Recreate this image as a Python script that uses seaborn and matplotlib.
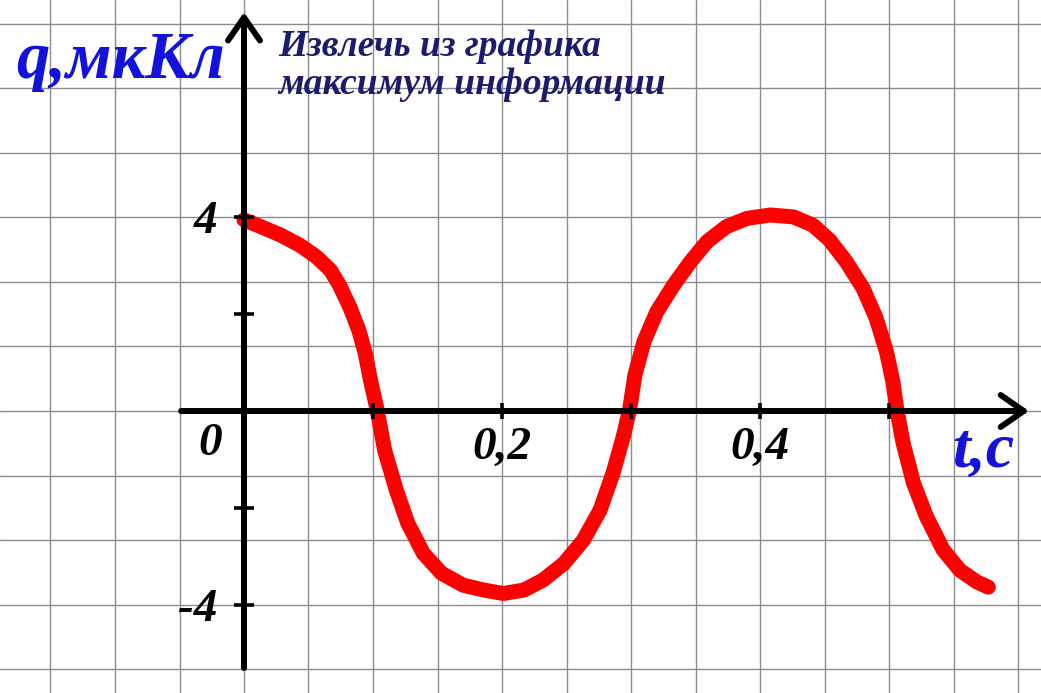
import matplotlib
matplotlib.use("Agg")
import matplotlib.pyplot as plt
import seaborn as sns
import pandas as pd
from matplotlib.ticker import MultipleLocator, NullLocator

# ---- data ----
time_s = [0.000, 0.012, 0.028, 0.043, 0.056, 0.067, 0.074, 0.082, 0.089, 0.094, 0.098, 0.103,
          0.109, 0.118, 0.127, 0.139, 0.153, 0.170, 0.186, 0.201, 0.217, 0.232, 0.248, 0.263,
          0.276, 0.286, 0.294, 0.299,
          0.303, 0.310, 0.320, 0.333, 0.346, 0.359, 0.374, 0.390, 0.408, 0.426, 0.441, 0.454,
          0.467, 0.480, 0.490, 0.498, 0.503, 0.506,
          0.511, 0.519, 0.529, 0.542, 0.555, 0.568, 0.577]
charge_uC = [3.95, 3.82, 3.64, 3.43, 3.19, 2.91, 2.60, 2.15, 1.67, 1.19, 0.64, 0.05,
             -0.81, -1.63, -2.32, -2.94, -3.35, -3.60, -3.70, -3.77, -3.70, -3.49, -3.15, -2.67,
             -2.05, -1.29, -0.53, 0.04,
             0.74, 1.43, 2.05, 2.60, 3.08, 3.50, 3.81, 3.98, 4.05, 4.01, 3.84, 3.53,
             3.08, 2.53, 1.92, 1.23, 0.61, 0.04,
             -0.67, -1.49, -2.18, -2.87, -3.29, -3.53, -3.64]

x_ticks = [0.1, 0.2, 0.3, 0.4, 0.5]
x_tick_labels = ["", "0,2", "", "0,4", ""]
y_ticks = [-4, -2, 2, 4]
y_tick_labels = ["-4", "", "", "4"]
y_label = "q,мкКл"
x_label = "t,c"
note = "Извлечь из графика\nмаксимум информации"

df = pd.DataFrame({"t": time_s, "q": charge_uC})

sns.set_style("white")
plt.rcParams["font.family"] = ["Liberation Serif", "DejaVu Serif"]
plt.rcParams["text.color"] = "black"
plt.rcParams["xtick.color"] = "black"
plt.rcParams["ytick.color"] = "black"

W, H = 1041, 693
fig = plt.figure(figsize=(W / 100, H / 100), dpi=100)
fig.patch.set_facecolor("white")

xlim = (-244 / 1290, (W - 244) / 1290)
ylim = (-(H - 411) / 48.4, 411 / 48.4)

# --- base axes: grid + curve ---
ax = fig.add_axes([0, 0, 1, 1], label="base")
ax.set_xlim(*xlim)
ax.set_ylim(*ylim)
for s in ax.spines.values():
    s.set_visible(False)
ax.xaxis.set_major_locator(NullLocator())
ax.yaxis.set_major_locator(NullLocator())
ax.xaxis.set_minor_locator(MultipleLocator(0.05))
ax.yaxis.set_minor_locator(MultipleLocator(4 / 3))
ax.tick_params(which="both", length=0, labelbottom=False, labelleft=False)
ax.grid(which="minor", color="#8c8c8c", linewidth=1.0)
ax.set_axisbelow(True)

sns.lineplot(data=df, x="t", y="q", sort=False, estimator=None, ax=ax,
             color="#ff0000", linewidth=10.8, solid_capstyle="round",
             solid_joinstyle="round")
ax.set_xlabel("")
ax.set_ylabel("")

# --- overlay axes: arrows, ticks, labels ---
ax2 = fig.add_axes([0, 0, 1, 1], label="overlay")
ax2.patch.set_alpha(0)
ax2.set_xlim(*xlim)
ax2.set_ylim(*ylim)
ax2.spines["left"].set_position(("data", 0))
ax2.spines["bottom"].set_position(("data", 0))
for s in ax2.spines.values():
    s.set_visible(False)
ax2.set_xticks(x_ticks)
ax2.set_xticklabels(x_tick_labels)
ax2.set_yticks(y_ticks)
ax2.set_yticklabels(y_tick_labels)
ax2.tick_params(axis="x", bottom=True, direction="inout", length=11, width=2.6,
                color="black", labelcolor="black", pad=6, labelsize=34)
ax2.tick_params(axis="y", left=True, direction="inout", length=15, width=2.6,
                color="black", labelcolor="black", pad=12, labelsize=34)
for lab in ax2.get_xticklabels() + ax2.get_yticklabels():
    lab.set_fontweight("bold")
    lab.set_fontstyle("italic")

arrow_kw = dict(arrowstyle="->,head_length=16.6,head_width=11.5", color="black",
                lw=4.3, mutation_scale=1, shrinkA=0, shrinkB=0,
                capstyle="round", joinstyle="round")
ax2.annotate("", xy=(0.6085, 0), xytext=(-0.0488, 0), arrowprops=arrow_kw)
ax2.annotate("", xy=(0, 8.24), xytext=(0, -5.31), arrowprops=arrow_kw)

ax2.text(210 / W, 1 - 444 / H, "0", transform=ax2.transAxes, ha="center", va="center",
         fontsize=34, fontweight="bold", fontstyle="italic", color="black")
ax2.text(121 / W, 1 - 61 / H, y_label, transform=ax2.transAxes, ha="center", va="center",
         fontsize=48, fontstyle="italic", fontweight="bold", color="#1212dc")
ax2.text(983 / W, 1 - 452 / H, x_label, transform=ax2.transAxes, ha="center", va="center",
         fontsize=46, fontstyle="italic", fontweight="bold", color="#1212dc")
ax2.text(278 / W, 1 - 29 / H, note, transform=ax2.transAxes, ha="left", va="top",
         fontsize=27, fontstyle="italic", fontweight="bold", color="#1c1c6e",
         linespacing=1.1)

fig.savefig("out.png", dpi=100, facecolor="white")
